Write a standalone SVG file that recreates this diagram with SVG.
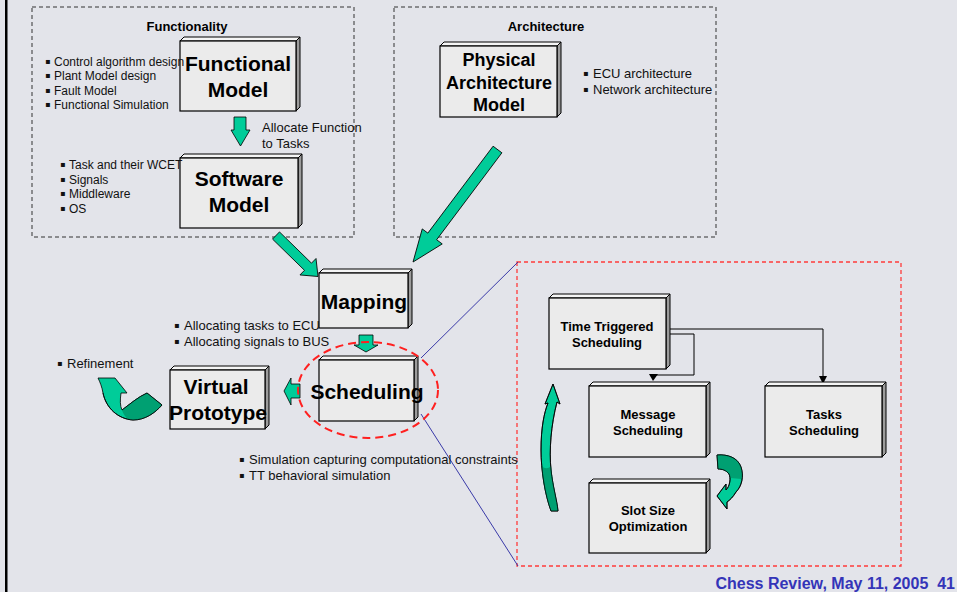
<svg xmlns="http://www.w3.org/2000/svg" width="957" height="592" viewBox="0 0 957 592">
  <style>
    .bg { fill: #e3e4ea; }
    .front { fill: #ebebeb; stroke: #000; stroke-width: 1.2; }
    .top { fill: #f5f5f5; stroke: #000; stroke-width: 1; }
    .side { fill: #9c9c9c; stroke: #000; stroke-width: 1; }
    .group-frame { fill: none; stroke: #333; stroke-width: 1; stroke-dasharray: 4 3; }
    .zoom-frame { fill: none; stroke: #ff3b3b; stroke-width: 1.3; stroke-dasharray: 4 3; }
    .focus { fill: none; stroke: #ff2020; stroke-width: 2; stroke-dasharray: 8 5; }
    .proj { stroke: #3a3aa8; stroke-width: 1; fill: none; }
    .flow { fill: #00cc99; stroke: #000; stroke-width: 0.8; stroke-linejoin: miter; }
    .flow-dark { fill: #00a072; stroke: none; }
    .curve-outline { fill: none; stroke: #000; stroke-width: 0.8; }
    .link { fill: none; stroke: #000; stroke-width: 1; }
    .head { fill: #000; }
    .big { font-family: "Liberation Sans", Arial, sans-serif; font-weight: bold; fill: #000; text-anchor: middle; }
    .small-b { font-family: "Liberation Sans", Arial, sans-serif; font-weight: bold; font-size: 13px; fill: #000; text-anchor: middle; }
    .note { font-family: "Liberation Sans", Arial, sans-serif; font-size: 13px; fill: #111; }
    .note12 { font-family: "Liberation Sans", Arial, sans-serif; font-size: 12px; fill: #111; }
    .bullet { font-family: "DejaVu Sans", sans-serif; font-size: 8px; fill: #111; }
    .footer { font-family: "Liberation Sans", Arial, sans-serif; font-weight: bold; font-size: 16px; fill: #3434b8; text-anchor: end; }
  </style>

  <!-- slide background and left rule -->
  <rect class="bg" x="0" y="0" width="957" height="592"/>
  <rect x="5" y="0" width="2.5" height="592" fill="#000"/>

  <!-- grouping frames -->
  <g id="frames">
    <rect class="group-frame" x="32" y="7" width="322" height="230"/>
    <rect class="group-frame" x="394" y="7" width="322" height="230"/>
    <text class="big" x="187" y="31" font-size="13">Functionality</text>
    <text class="big" x="546" y="31" font-size="13">Architecture</text>
    <rect class="zoom-frame" x="517" y="262" width="384" height="304"/>
  </g>

  <!-- connectors -->
  <g id="connectors">
    <!-- projection lines from the focus ellipse to the detail frame -->
    <line class="proj" x1="421" y1="358" x2="518" y2="262"/>
    <line class="proj" x1="421" y1="414" x2="518" y2="566"/>

    <!-- Functional Model to Software Model -->
    <polygon class="flow" points="234,117 246,117 246,130 250,130 240.5,146 231,130 234,130"/>
    <!-- Software Model to Mapping -->
    <polygon class="flow" transform="translate(276,235.5) rotate(44.3)" points="0,-5 44.7,-5 44.7,-11.5 58.7,0 44.7,11.5 44.7,5 0,5"/>
    <!-- Physical Architecture Model to Mapping -->
    <polygon class="flow" transform="translate(497.5,149.5) rotate(126.9)" points="0,-5.5 108.7,-5.5 108.7,-12.5 140.7,0 108.7,12.5 108.7,5.5 0,5.5"/>
    <!-- Mapping to Scheduling -->
    <polygon class="flow" points="359,335 373,335 373,345 378,345 366,352 354,345 359,345"/>
    <!-- Scheduling to Virtual Prototype -->
    <polygon class="flow" points="300,384 300,398 291,398 291,405 284,391 291,378 291,384"/>

    <!-- refinement loop arrow -->
    <path class="flow" d="M98,378 L115,378 L127,393 L121,393 C120,400 120,406 122,410 C130,404 138,397 147,393 L162,405 C155,413 145,420 133,420 C118,419 106,408 103,393 C102,387 100,382 98,378 Z"/>
    <path class="flow-dark" d="M122,410 C130,404 138,397 147,393 L162,405 C155,413 145,420 133,420 C127,420 124,416 122,410 Z"/>
    <path class="curve-outline" d="M122,410 C130,404 138,397 147,393 L162,405 C155,413 145,420 133,420 C118,419 106,408 103,393"/>

    <!-- iteration arrows inside the detail frame -->
    <path class="flow" d="M553,384 L560,404 L557,402 C551,425 549,450 551,470 C553,488 557,500 558,511 L551,511 C545,495 541,470 541,450 C541,428 544,413 548,403 L545,404 Z"/>
    <path class="flow-dark" d="M551,466 C553,486 557,500 558,511 L551,511 C546,498 543,484 541.5,466 C545,469 548,469 551,466 Z"/>
    <path class="curve-outline" d="M553,384 L560,404 L557,402 C551,425 549,450 551,470 C553,488 557,500 558,511 L551,511 C545,495 541,470 541,450 C541,428 544,413 548,403 L545,404 Z"/>

    <path class="flow" d="M717,455 C728,454 738,458 741,467 C744,476 742,486 736,492 C733,497 730,500 727,502 L727,509 L717,496 L726,484 L726,490 C730,486 731,478 729,474 C726,470 722,469 718,469 Z"/>
    <path class="flow-dark" d="M717,455 C728,454 738,458 741,467 C742,471 742,475 741.5,479 L730.5,478 C730,475 729.5,474 729,474 C726,470 722,469 718,469 Z"/>
    <path class="curve-outline" d="M717,455 C728,454 738,458 741,467 C744,476 742,486 736,492 C733,497 730,500 727,502 L727,509 L717,496 L726,484 L726,490 C730,486 731,478 729,474 C726,470 722,469 718,469 Z"/>

    <!-- scheduling dependencies -->
    <path class="link" d="M670,329 H823 V378"/>
    <polygon class="head" points="819,376 827,376 823,384"/>
    <path class="link" d="M666,334 H694 V375 H655"/>
    <polygon class="head" points="649,374 658,374 653,381"/>
  </g>

  <!-- nodes: front face, top bevel, right bevel, label -->
  <g id="functional-model">
    <polygon class="top" points="180,41 184,37 300,37 296,41"/>
    <polygon class="side" points="296,41 300,37 300,107 296,111"/>
    <rect class="front" x="180" y="41" width="116" height="70"/>
    <text class="big" font-size="21" x="238" y="71">Functional</text>
    <text class="big" font-size="21" x="238" y="97">Model</text>
  </g>

  <g id="software-model">
    <polygon class="top" points="180,158 184,154 302,154 298,158"/>
    <polygon class="side" points="298,158 302,154 302,224 298,228"/>
    <rect class="front" x="180" y="158" width="118" height="70"/>
    <text class="big" font-size="21" x="239" y="186">Software</text>
    <text class="big" font-size="21" x="239" y="212">Model</text>
  </g>

  <g id="physical-architecture-model">
    <polygon class="top" points="440,46 444,42 561,42 557,46"/>
    <polygon class="side" points="557,46 561,42 561,113 557,117"/>
    <rect class="front" x="440" y="46" width="117" height="71"/>
    <text class="big" font-size="18" x="499" y="66">Physical</text>
    <text class="big" font-size="18" x="499" y="89">Architecture</text>
    <text class="big" font-size="18" x="499" y="111">Model</text>
  </g>

  <g id="mapping">
    <polygon class="top" points="319,273 323,269 412,269 408,273"/>
    <polygon class="side" points="408,273 412,269 412,324 408,328"/>
    <rect class="front" x="319" y="273" width="89" height="55"/>
    <text class="big" font-size="21" x="364" y="309">Mapping</text>
  </g>

  <g id="scheduling">
    <polygon class="top" points="319,360 323,356 418,356 414,360"/>
    <polygon class="side" points="414,360 418,356 418,417 414,421"/>
    <rect class="front" x="319" y="360" width="95" height="61"/>
    <text class="big" font-size="21" x="367" y="399">Scheduling</text>
  </g>

  <g id="virtual-prototype">
    <polygon class="top" points="170,370 174,366 269,366 265,370"/>
    <polygon class="side" points="265,370 269,366 269,425 265,429"/>
    <rect class="front" x="170" y="370" width="95" height="59"/>
    <text class="big" font-size="21" x="216" y="394">Virtual</text>
    <text class="big" font-size="21" x="218" y="420">Prototype</text>
  </g>

  <g id="time-triggered-scheduling">
    <polygon class="top" points="549,298 553,294 670,294 666,298"/>
    <polygon class="side" points="666,298 670,294 670,365 666,369"/>
    <rect class="front" x="549" y="298" width="117" height="71"/>
    <text class="small-b" x="607" y="331">Time Triggered</text>
    <text class="small-b" x="607" y="347">Scheduling</text>
  </g>

  <g id="message-scheduling">
    <polygon class="top" points="589,386 593,382 710,382 706,386"/>
    <polygon class="side" points="706,386 710,382 710,453 706,457"/>
    <rect class="front" x="589" y="386" width="117" height="71"/>
    <text class="small-b" x="648" y="419">Message</text>
    <text class="small-b" x="648" y="435">Scheduling</text>
  </g>

  <g id="tasks-scheduling">
    <polygon class="top" points="765,386 769,382 886,382 882,386"/>
    <polygon class="side" points="882,386 886,382 886,453 882,457"/>
    <rect class="front" x="765" y="386" width="117" height="71"/>
    <text class="small-b" x="824" y="419">Tasks</text>
    <text class="small-b" x="824" y="435">Scheduling</text>
  </g>

  <g id="slot-size-optimization">
    <polygon class="top" points="589,483 593,479 710,479 706,483"/>
    <polygon class="side" points="706,483 710,479 710,549 706,553"/>
    <rect class="front" x="589" y="483" width="117" height="70"/>
    <text class="small-b" x="648" y="515">Slot Size</text>
    <text class="small-b" x="648" y="531">Optimization</text>
  </g>

  <!-- focus ellipse around Scheduling -->
  <ellipse class="focus" cx="368" cy="390" rx="70" ry="48"/>

  <!-- annotations -->
  <g id="notes">
    <text class="bullet" x="45" y="64">▪</text>
    <text class="note12" x="54" y="66">Control algorithm design</text>
    <text class="bullet" x="45" y="78.3">▪</text>
    <text class="note12" x="54" y="80.3">Plant Model design</text>
    <text class="bullet" x="45" y="92.6">▪</text>
    <text class="note12" x="54" y="94.6">Fault Model</text>
    <text class="bullet" x="45" y="107">▪</text>
    <text class="note12" x="54" y="109">Functional Simulation</text>

    <text class="note" x="262" y="132">Allocate Function</text>
    <text class="note" x="262" y="148">to Tasks</text>

    <text class="bullet" x="60" y="167">▪</text>
    <text class="note12" x="69" y="169">Task and their WCET</text>
    <text class="bullet" x="60" y="182">▪</text>
    <text class="note12" x="69" y="184">Signals</text>
    <text class="bullet" x="60" y="196">▪</text>
    <text class="note12" x="69" y="198">Middleware</text>
    <text class="bullet" x="60" y="211">▪</text>
    <text class="note12" x="69" y="213">OS</text>

    <text class="bullet" x="583" y="76">▪</text>
    <text class="note" x="593" y="78">ECU architecture</text>
    <text class="bullet" x="583" y="92">▪</text>
    <text class="note" x="593" y="94">Network architecture</text>

    <text class="bullet" x="174" y="328">▪</text>
    <text class="note" x="184" y="330">Allocating tasks to ECU</text>
    <text class="bullet" x="174" y="344">▪</text>
    <text class="note" x="184" y="346">Allocating signals to BUS</text>

    <text class="bullet" x="57" y="366">▪</text>
    <text class="note" x="67" y="368">Refinement</text>

    <text class="bullet" x="239" y="462">▪</text>
    <text class="note" x="249" y="464">Simulation capturing computational constraints</text>
    <text class="bullet" x="239" y="478">▪</text>
    <text class="note" x="249" y="480">TT behavioral simulation</text>
  </g>

  <text class="footer" x="955" y="589" xml:space="preserve">Chess Review, May 11, 2005  41</text>
</svg>
